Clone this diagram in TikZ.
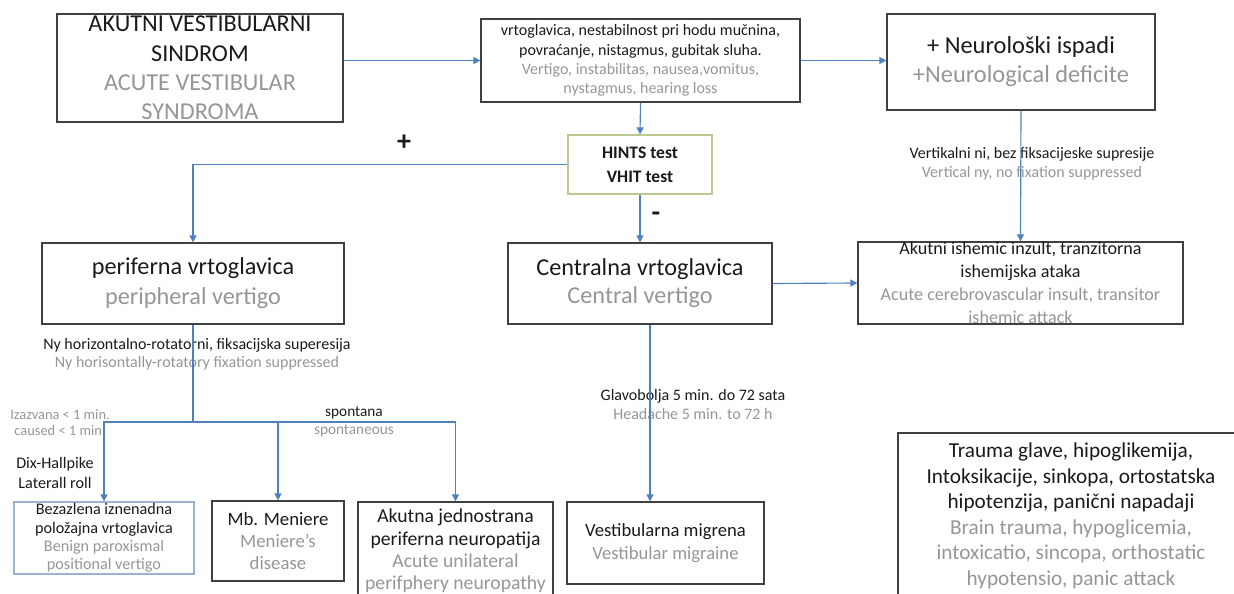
\documentclass[tikz,border=0pt]{standalone}
\usepackage{fontspec}
\setmainfont{Carlito}
\usepackage{xcolor}
\usepackage{tikz}
\usetikzlibrary{arrows.meta}
\definecolor{arrblue}{HTML}{4F81BD}
\definecolor{boxline}{HTML}{404040}
\definecolor{txtgray}{HTML}{969696}
\definecolor{txtblack}{HTML}{1A1A1A}
\definecolor{hintsline}{HTML}{B9C98F}
\definecolor{bppvline}{HTML}{9DB2CF}
\newcommand{\gtxt}[1]{\textcolor{txtgray}{#1}}

\begin{document}
\begin{tikzpicture}[x=0.02cm,y=-0.02cm,
    box/.style={draw=boxline,line width=0.7pt,text=txtblack,align=center,inner sep=0pt},
    lbl/.style={text=txtblack,align=center,inner sep=0pt},
    conn/.style={draw=arrblue,line width=0.65pt},
    arr/.style={conn,-{Triangle[length=4pt,width=4pt]}}]
  \useasboundingbox (0,0) rectangle (1234,594);
  \clip (0,0) rectangle (1234,594);
  \node[box,minimum width=5.72cm,minimum height=2.16cm,font=\fontsize{13.8}{16.7}\selectfont]
    (avs) at (200,68) {AKUTNI VESTIBULARNI\\SINDROM\\\gtxt{ACUTE VESTIBULAR}\\\gtxt{SYNDROMA}};
  \node[box,minimum width=6.38cm,minimum height=1.66cm,font=\fontsize{9.1}{10.9}\selectfont]
    (sym) at (640.5,60.5) {vrtoglavica, nestabilnost pri hodu mučnina,\\povraćanje, nistagmus, gubitak sluha.\\\gtxt{Vertigo, instabilitas, nausea,vomitus,}\\\gtxt{nystagmus, hearing loss}};
  \node[box,minimum width=5.36cm,minimum height=1.92cm,font=\fontsize{13.9}{16.4}\selectfont]
    (neu) at (1021,62) {+ Neurološki ispadi\\\gtxt{+Neurological deficite}};
  \node[box,draw=hintsline,minimum width=2.88cm,minimum height=1.18cm,font=\fontsize{10}{13.6}\selectfont\bfseries]
    (hints) at (640,164.5) {HINTS test\\VHIT test};
  \node[box,minimum width=6.04cm,minimum height=1.62cm,font=\fontsize{13.8}{17}\selectfont]
    (per) at (193,283.5) {periferna vrtoglavica\\\gtxt{peripheral vertigo}};
  \node[box,minimum width=5.28cm,minimum height=1.62cm,font=\fontsize{13.8}{15.9}\selectfont]
    (cen) at (640,283.5) {Centralna vrtoglavica\\\gtxt{Central vertigo}};
  \node[box,minimum width=6.5cm,minimum height=1.64cm,font=\fontsize{10.3}{13}\selectfont]
    (isch) at (1020.5,283) {Akutni ishemic inzult, tranzitorna\\ishemijska ataka\\\gtxt{Acute cerebrovascular  insult, transitor}\\\gtxt{ishemic attack}};
  \node[box,draw=bppvline,minimum width=3.6cm,minimum height=1.44cm,font=\fontsize{9.2}{10.4}\selectfont]
    (bppv) at (104,538) {Bezazlena iznenadna\\položajna vrtoglavica\\\gtxt{Benign paroxismal}\\\gtxt{positional vertigo}};
  \node[box,minimum width=2.64cm,minimum height=1.6cm,font=\fontsize{10.7}{12.5}\selectfont]
    (men) at (278,541) {Mb. Meniere\\\gtxt{Meniere’s}\\\gtxt{disease}};
  \node[box,minimum width=3.9cm,minimum height=1.96cm,font=\fontsize{11.2}{12.8}\selectfont]
    (neuro) at (455.5,551) {Akutna jednostrana\\periferna neuropatija\\\gtxt{Acute unilateral}\\\gtxt{perifphery neuropathy}};
  \node[box,minimum width=3.94cm,minimum height=1.64cm,font=\fontsize{10.6}{13}\selectfont]
    (mig) at (665.5,543) {Vestibularna migrena\\\gtxt{Vestibular migraine}};
  \node[box,minimum width=6.92cm,minimum height=3.32cm,font=\fontsize{12.1}{14.5}\selectfont]
    (trau) at (1071,516) {Trauma glave, hipoglikemija,\\Intoksikacije, sinkopa, ortostatska\\hipotenzija, panični napadaji\\\gtxt{Brain trauma, hypoglicemia,}\\\gtxt{intoxicatio, sincopa, orthostatic}\\\gtxt{hypotensio,  panic attack}};

  \node[lbl,font=\fontsize{16}{16}\selectfont\bfseries] (plus) at (404,143) {+};
  \node[lbl,font=\fontsize{16}{16}\selectfont\bfseries] (minus) at (656,217) {-};
  \node[lbl,font=\fontsize{9.1}{10.8}\selectfont] (vertlbl) at (1032,163.5) {Vertikalni ni, bez fiksacijeske supresije\\\gtxt{Vertical ny, no fixation suppressed}};
  \node[lbl,font=\fontsize{9.1}{10.2}\selectfont] (horlbl) at (197,354) {Ny horizontalno-rotatorni, fiksacijska superesija\\\gtxt{Ny horisontally-rotatory fixation suppressed}};
  \node[lbl,font=\fontsize{8.2}{9.1}\selectfont] (izlbl) at (60,423) {\gtxt{Izazvana < 1 min.}\\\gtxt{caused < 1 min.}};
  \node[lbl,font=\fontsize{8.7}{10.2}\selectfont] (splbl) at (354,422) {spontana\\\gtxt{spontaneous}};
  \node[lbl,font=\fontsize{9.2}{11.3}\selectfont] (dixlbl) at (55,473) {Dix-Hallpike\\Laterall roll};
  \node[lbl,font=\fontsize{9.1}{10.8}\selectfont] (glavlbl) at (693,404.5) {Glavobolja 5 min. do 72 sata\\\gtxt{Headache 5 min. to 72 h}};

  \coordinate (split) at (193,422);
  \draw[arr] (sym.west -| avs.east) -- (sym.west);
  \draw[arr] (sym.east) -- (sym.east -| neu.west);
  \draw[arr] (sym.south) -- (hints.north);
  \draw[arr] (hints.west) -| (per.north);
  \draw[arr] (hints.south) -- (cen.north);
  \draw[arr] (neu.south) -- (isch.north);
  \draw[arr] (cen.east) -- (isch.west);
  \draw[conn] (per.south) -- (split);
  \draw[arr] (split) -| (bppv.north);
  \draw[arr] (split) -| (men.north);
  \draw[arr] (split) -| (neuro.north);
  \draw[arr] ([xshift=0.2cm]cen.south) -- ([xshift=0.2cm]cen.south |- mig.north);
\end{tikzpicture}
\end{document}
